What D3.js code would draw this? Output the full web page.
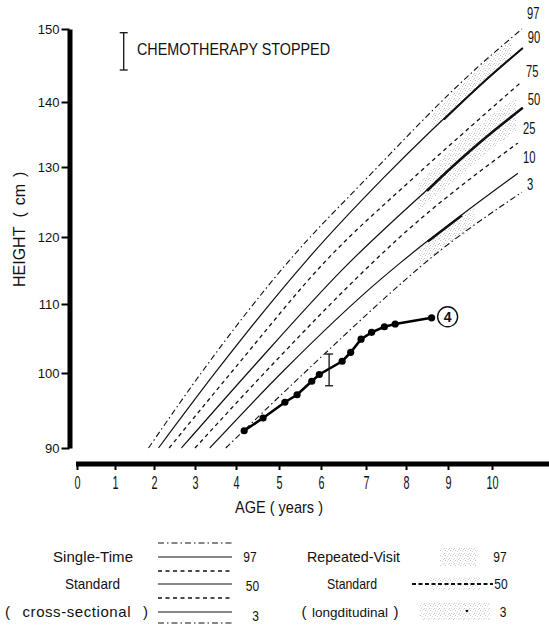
<!DOCTYPE html>
<html><head><meta charset="utf-8">
<script src="https://cdn.jsdelivr.net/npm/d3@7"></script>
<style>body{margin:0;background:#fff}text{font-family:"Liberation Sans",Arial,sans-serif;fill:#111}</style>
</head><body>
<svg id="c" width="549" height="625"></svg>
<script>
// ---------- data ----------
const xTicks = [0,1,2,3,4,5,6,7,8,9,10];
const yTicks = [90,100,110,120,130,140,150];
const percentileLabels = ["97","90","75","50","25","10","3"];
const p97 = [[1.86,90],[3.2,100.4],[5.26,116.6],[7.02,128.4],[9.68,144.8],[10.68,150.0]];
const p90 = [[2.11,90],[3.54,100.4],[5.67,116.6],[7.43,128.4],[9.73,142.3],[10.70,147.4]];
const p75 = [[2.37,90],[3.93,100.4],[6.13,116.6],[8.17,128.4],[9.68,137.2],[10.66,142.7]];
const p50 = [[2.67,90],[4.33,100.4],[6.47,115.1],[8.81,128.4],[9.73,133.8],[10.70,139.1]];
const p25 = [[3.0,90],[4.72,100.4],[6.98,115.1],[7.85,120.0],[10.59,133.7]];
const p10 = [[3.36,90],[5.12,100.4],[7.35,113.6],[7.85,116.1],[10.59,129.1]];
const p3  = [[3.75,90],[5.67,100.4],[7.98,113.6],[8.33,115.5],[10.68,126.4]];
// longitudinal (repeated-visit) standard segments
const long97 = [[8.9,137.3],[9.73,142.3],[10.70,147.4]];
const long50 = [[8.5,126.6],[8.81,128.4],[9.73,133.8],[10.70,139.1]];
const long3  = [[8.52,119.3],[9.32,123.1]];
const band97 = [[8.6,135.6,138.1],[9.2,139.2,141.7],[9.8,142.8,145.4],[10.45,146.2,148.6]];
const band50 = [[8.3,123.8,127.6],[9.0,127.2,132.4],[9.7,131.2,136.8],[10.55,135.6,140.6]];
const band3  = [[8.3,115.6,118.5],[8.9,118.3,121.3],[9.6,121.4,124.4]];
// patient
const patientAge    = [4.19,4.63,5.14,5.43,5.78,5.96,6.47,6.66,6.89,7.14,7.46,7.73,8.61];
const patientHeight = [92.3,94.0,96.1,97.1,98.9,99.8,101.7,103.0,104.9,105.9,106.7,107.1,108.0];
const patientId = "4";
const chemoStop = {age:6.18, lo:98.3, hi:102.75};
const legendLeftLabels = ["Single-Time","Standard","cross-sectional"];
const legendRightLabels = ["Repeated-Visit","Standard","longditudinal"];
const legendPct = ["97","50","3"];

// ---------- drawing ----------
const svg = d3.select("#c");
const defs = svg.append("defs");
const pat = defs.append("pattern").attr("id","stip").attr("width",5).attr("height",5).attr("patternUnits","userSpaceOnUse");
[[0,0,"#999"],[2,1,"#c4c4c4"],[4,3,"#aaa"],[1,3,"#d0d0d0"],[3,4,"#b5b5b5"]].forEach(p=>pat.append("rect").attr("x",p[0]).attr("y",p[1]).attr("width",1).attr("height",1).attr("fill",p[2]));

const x = d3.scaleLinear().domain(xTicks).range([77,115,154,195,236,279,321,366,406,448,492]);
const y = d3.scaleLinear().domain(yTicks).range([448,373,304,237,167,102,29]);

// stipple bands
const area = d3.area().x(d=>x(d[0])).y0(d=>y(d[1])).y1(d=>y(d[2])).curve(d3.curveBasis);
[band97,band50,band3].forEach(b=>svg.append("path").attr("d",area(b)).attr("fill","url(#stip)").attr("opacity",0.65));

const line = d3.line().x(d=>x(d[0])).y(d=>y(d[1])).curve(d3.curveMonotoneX);
const styles = {dashdot:{dash:"6,3,1.5,3",w:1.1}, solid:{dash:null,w:1.2}, dashed:{dash:"4,3.5",w:1.3}};
const curveStyles = ["dashdot","solid","dashed","solid","dashed","solid","dashdot"];
const curves = [p97,p90,p75,p50,p25,p10,p3];
curves.forEach((c,i)=>{
  const s = styles[curveStyles[i]];
  svg.append("path").attr("d",line(c)).attr("fill","none").attr("stroke","#111")
    .attr("stroke-width",s.w).attr("stroke-dasharray",s.dash);
});
// thick longitudinal segments
[[long97,2.0],[long50,2.6],[long3,2.2]].forEach(a=>{
  svg.append("path").attr("d",line(a[0])).attr("fill","none").attr("stroke","#111").attr("stroke-width",a[1]);
});
// percentile labels
const lblDy = [-15,-10,-10,-8,-14,-15,-7];
curves.forEach((c,i)=>{
  const e = c[c.length-1];
  svg.append("text").attr("transform",`translate(${x(e[0])+5},${y(e[1])+lblDy[i]+5}) scale(0.7,1)`)
    .attr("font-size",16).text(percentileLabels[i]);
});

// axes
const gy = svg.append("g").attr("transform","translate(69.5,0)")
  .call(d3.axisLeft(y).tickValues(yTicks).tickSize(8).tickPadding(2).tickSizeOuter(0));
gy.select(".domain").attr("stroke","#000").attr("stroke-width",5);
gy.selectAll(".tick line").attr("stroke","#000").attr("stroke-width",2);
gy.selectAll(".tick text").attr("font-size",13).attr("font-family","Liberation Sans, Arial").attr("fill","#111");

const gx = svg.append("g").attr("transform","translate(0,464)")
  .call(d3.axisBottom(x).tickValues(xTicks).tickSize(6).tickPadding(7).tickSizeOuter(0));
gx.select(".domain").remove();
gx.append("line").attr("x1",76).attr("x2",549).attr("stroke","#000").attr("stroke-width",5);
gx.selectAll(".tick line").attr("stroke","#000").attr("stroke-width",2);
gx.selectAll(".tick text").attr("font-size",17.5).attr("font-family","Liberation Sans, Arial").attr("fill","#111")
  .attr("transform","scale(0.62,1)");

svg.append("text").attr("x",279).attr("y",513).attr("text-anchor","middle").attr("font-size",17)
  .attr("textLength",88).attr("lengthAdjust","spacingAndGlyphs").text("AGE ( years )");
const yl = svg.append("text").attr("transform","translate(25,287) rotate(-90)").attr("font-size",16);
yl.append("tspan").text("HEIGHT");
yl.append("tspan").attr("dx",9).text("(");
yl.append("tspan").attr("dx",7).text("cm");
yl.append("tspan").attr("dx",7).text(")");

// chemo legend
function ibar(cx,y1,y2){
  svg.append("line").attr("x1",cx).attr("x2",cx).attr("y1",y1).attr("y2",y2).attr("stroke","#111").attr("stroke-width",1.3);
  [y1,y2].forEach(v=>svg.append("line").attr("x1",cx-4).attr("x2",cx+4).attr("y1",v).attr("y2",v).attr("stroke","#111").attr("stroke-width",1.3));
}
ibar(123.7,32.7,70);
svg.append("text").attr("x",137).attr("y",54.5).attr("font-size",17).attr("textLength",193)
  .attr("lengthAdjust","spacingAndGlyphs").text("CHEMOTHERAPY STOPPED");

// patient
const pts = patientAge.map((a,i)=>[a,patientHeight[i]]);
svg.append("path").attr("d",d3.line().x(d=>x(d[0])).y(d=>y(d[1]))(pts)).attr("fill","none").attr("stroke","#000").attr("stroke-width",2.6);
svg.selectAll("circle.pt").data(pts).join("circle").attr("class","pt").attr("cx",d=>x(d[0])).attr("cy",d=>y(d[1])).attr("r",3.6).attr("fill","#000");
ibar(x(chemoStop.age), y(chemoStop.hi), y(chemoStop.lo));
const last = pts[pts.length-1];
svg.append("circle").attr("cx",x(last[0])+16).attr("cy",y(last[1])-1).attr("r",10).attr("fill","none").attr("stroke","#111").attr("stroke-width",1.4);
svg.append("text").attr("x",x(last[0])+16).attr("y",y(last[1])+4).attr("text-anchor","middle").attr("font-size",14).attr("font-weight","bold").text(patientId);

// text fitting helper: compress glyphs if too wide, else widen spacing
function fit(t, target){
  const w = t.node().getComputedTextLength();
  t.attr("textLength",target).attr("lengthAdjust", w > target ? "spacingAndGlyphs" : "spacing");
}
function paren(cx, yy, txt, total, innerSize, inner){
  svg.append("text").attr("x",cx-total/2).attr("y",yy).attr("font-size",15).text("(");
  svg.append("text").attr("x",cx+total/2).attr("y",yy).attr("text-anchor","end").attr("font-size",15).text(")");
  const t = svg.append("text").attr("x",cx).attr("y",yy).attr("text-anchor","middle").attr("font-size",innerSize).text(txt);
  if (inner) fit(t, inner);
}

// legend left
const lRows = [543,557,571,584,598,612,623];
lRows.forEach((ry,i)=>{
  const s = styles[curveStyles[i]];
  svg.append("line").attr("x1",158).attr("x2",232).attr("y1",ry).attr("y2",ry).attr("stroke","#111")
    .attr("stroke-width",s.w).attr("stroke-dasharray",s.dash);
});
const lTextY = [562,589,617];
const lTextX = [93,92.5];
const lTextLen = [80,55];
legendLeftLabels.slice(0,2).forEach((t,i)=>fit(svg.append("text").attr("x",lTextX[i]).attr("y",lTextY[i]).attr("text-anchor","middle")
  .attr("font-size",15).text(t), lTextLen[i]));
paren(76.5, 617, legendLeftLabels[2], 143, 15, 108);
const lPctY = [562,591,621];
const lPctX = [250,252.5,255.5];
legendPct.forEach((t,i)=>svg.append("text").attr("transform",`translate(${lPctX[i]},${lPctY[i]}) scale(0.8,1)`).attr("text-anchor","middle").attr("font-size",15).text(t));

// legend right
const rTextX = [353.5,352];
const rTextLen = [93,50];
legendRightLabels.slice(0,2).forEach((t,i)=>fit(svg.append("text").attr("x",rTextX[i]).attr("y",lTextY[i]).attr("text-anchor","middle")
  .attr("font-size",15).text(t), rTextLen[i]));
paren(350, 617, legendRightLabels[2], 97, 13.5, 0);
svg.append("rect").attr("x",440).attr("y",548).attr("width",36).attr("height",18).attr("fill","url(#stip)").attr("opacity",0.6);
svg.append("rect").attr("x",430).attr("y",577).attr("width",50).attr("height",13).attr("fill","url(#stip)").attr("opacity",0.5);
svg.append("rect").attr("x",420).attr("y",603).attr("width",70).attr("height",17).attr("fill","url(#stip)").attr("opacity",0.6);
svg.append("line").attr("x1",412).attr("x2",493).attr("y1",584).attr("y2",584).attr("stroke","#111").attr("stroke-width",2).attr("stroke-dasharray","4,2.5");
svg.append("circle").attr("cx",467).attr("cy",611).attr("r",1.3).attr("fill","#111");
const rPctX = [500,501,503];
legendPct.forEach((t,i)=>svg.append("text").attr("transform",`translate(${rPctX[i]},${[562,589,617][i]}) scale(0.8,1)`).attr("text-anchor","middle").attr("font-size",15).text(t));
</script>
</body></html>
